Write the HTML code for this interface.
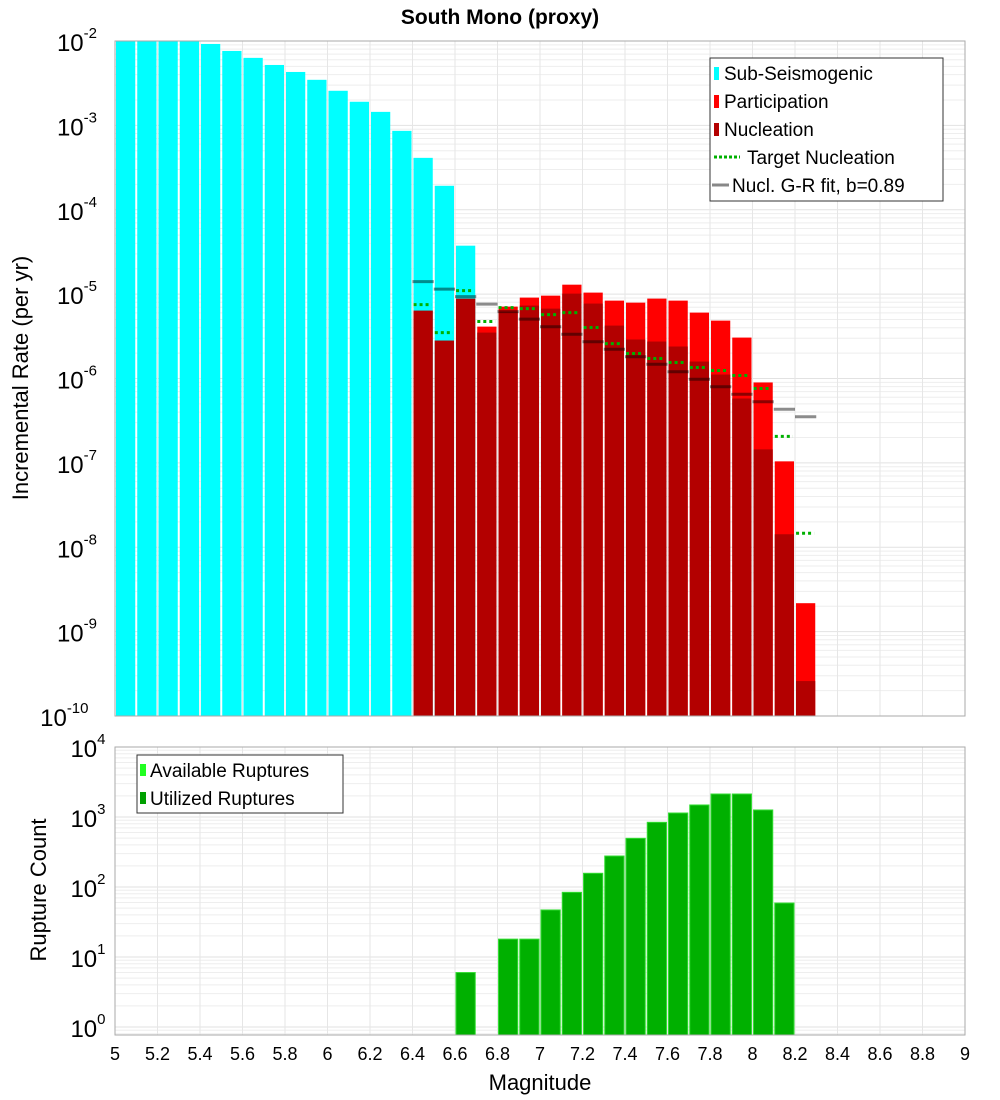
<!DOCTYPE html>
<html><head><meta charset="utf-8"><style>
html,body{margin:0;padding:0;background:#fff}
svg{display:block;font-family:"Liberation Sans","DejaVu Sans",sans-serif}
</style></head><body>
<svg id="chart" width="1000" height="1100" viewBox="0 0 1000 1100">
<text x="500" y="24" text-anchor="middle" font-size="21" font-weight="bold">South Mono (proxy)</text>
<g id="topPanel"></g>
<g id="botPanel"></g>
<text transform="translate(28,378) rotate(-90)" text-anchor="middle" font-size="22">Incremental Rate (per yr)</text>
<text transform="translate(46,890) rotate(-90)" text-anchor="middle" font-size="22">Rupture Count</text>
<text x="540" y="1090" text-anchor="middle" font-size="22">Magnitude</text>
</svg>
<script>
// data (log10 values / counts)
const subMags = [5.05,5.15,5.25,5.35,5.45,5.55,5.65,5.75,5.85,5.95,6.05,6.15,6.25,6.35,6.45,6.55,6.65];
const subLogRate = [-1.9,-1.9,-1.9,-1.9,-2.035,-2.118,-2.20,-2.284,-2.367,-2.46,-2.59,-2.72,-2.84,-3.065,-3.385,-3.716,-4.426];
const supMags = [6.45,6.55,6.65,6.75,6.85,6.95,7.05,7.15,7.25,7.35,7.45,7.55,7.65,7.75,7.85,7.95,8.05,8.15,8.25];
const partLogRate = [-5.195,-5.55,-5.053,-5.385,-5.148,-5.041,-5.018,-4.888,-4.982,-5.077,-5.101,-5.053,-5.077,-5.219,-5.314,-5.515,-6.047,-6.982,-8.663];
const nuclLogRate = [-5.195,-5.55,-5.053,-5.456,-5.207,-5.136,-5.172,-4.994,-5.112,-5.373,-5.538,-5.562,-5.621,-5.799,-5.953,-6.237,-6.84,-7.846,-9.586];
const targetLogRate = [-5.124,-5.456,-4.959,-5.325,-5.160,-5.172,-5.243,-5.219,-5.396,-5.586,-5.704,-5.763,-5.811,-5.870,-5.905,-5.964,-6.118,-6.686,-7.834];
const grLogRate = [-4.852,-4.941,-5.03,-5.119,-5.208,-5.297,-5.386,-5.475,-5.564,-5.653,-5.742,-5.831,-5.92,-6.009,-6.098,-6.187,-6.276,-6.365,-6.454];
const countMags = [6.65,6.85,6.95,7.05,7.15,7.25,7.35,7.45,7.55,7.65,7.75,7.85,7.95,8.05,8.15];
const ruptureCounts = [6,18,18,47,84,157,277,496,840,1140,1485,2130,2130,1260,59];
const xTickLabels = ["5","5.2","5.4","5.6","5.8","6","6.2","6.4","6.6","6.8","7","7.2","7.4","7.6","7.8","8","8.2","8.4","8.6","8.8","9"];
const topExps = [-2,-3,-4,-5,-6,-7,-8,-9,-10];
const botExps = [4,3,2,1,0];

const NS="http://www.w3.org/2000/svg";
const X0=115,X1=965;
const xs=m=>X0+(m-5)*(X1-X0)/4;
const T0=41,T1=716; const ty=l=>T0+(-2-l)*(T1-T0)/8;
const B0=747,B1=1035; const by=l=>B0+(4-l)*70;
function mk(tag,attrs,parent){const e=document.createElementNS(NS,tag);for(const k in attrs)e.setAttribute(k,attrs[k]);parent.appendChild(e);return e;}
const svgEl=document.getElementById('chart');
const defs=mk('defs',{},svgEl);
const cp1=mk('clipPath',{id:'ct'},defs);mk('rect',{x:X0,y:T0,width:X1-X0,height:T1-T0},cp1);
const cp2=mk('clipPath',{id:'cb'},defs);mk('rect',{x:X0,y:B0,width:X1-X0,height:B1-B0},cp2);

function panel(g,y0,y1,yf,eMin,eMax,clip){
  mk('rect',{x:X0,y:y0,width:X1-X0,height:y1-y0,fill:'#fff'},g);
  const gg=mk('g',{'clip-path':'url(#'+clip+')'},g);
  for(let e=eMin;e<eMax;e++){for(let k=1;k<10;k++){const y=yf(e+Math.log10(k));
    mk('line',{x1:X0,x2:X1,y1:y,y2:y,stroke:k==1?'#e2e2e2':'#eeeeee','stroke-width':1},gg);}}
  for(let i=0;i<xTickLabels.length;i++){const x=xs(5+i*0.2);mk('line',{x1:x,x2:x,y1:y0,y2:y1,stroke:'#e6e6e6'},gg);}
  return gg;
}
function bar(g,m,l,yf,y1,fill,name,stroke){
  const x=xs(m-0.05)+1,w=xs(m+0.05)-xs(m-0.05)-2,y=yf(l);
  const r=mk('rect',{x:x,y:y,width:w,height:Math.max(0,y1-y),fill:fill},g);
  if(stroke){r.setAttribute('stroke',stroke);r.setAttribute('stroke-width','1');}
  
  
}
function ylabels(exps,yf){
  exps.forEach(e=>{const y=yf(e);
    const w=String(e).length*8.5;
    const t=mk('text',{x:118-w-4,y:y+10,'text-anchor':'end','font-size':24},svgEl);
    
    
    const a=mk('tspan',{},t);a.textContent='10';
    const b=mk('tspan',{dy:-13,'font-size':15},t);b.textContent=String(e);
  });
}
// top panel
const topG=document.getElementById('topPanel');
const tg=panel(topG,T0,T1,ty,-10,-2,'ct');
supMags.forEach((m,i)=>bar(tg,m,partLogRate[i],ty,T1,'#ff0000','participation-bar'));
subMags.forEach((m,i)=>bar(tg,m,subLogRate[i],ty,T1,'#00ffff','sub-seismogenic-bar'));
supMags.forEach((m,i)=>bar(tg,m,nuclLogRate[i],ty,T1,'#b30000','nucleation-bar'));
supMags.forEach((m,i)=>{const y=ty(grLogRate[i]);
  const l=mk('line',{x1:xs(m-0.05),x2:xs(m+0.05),y1:y,y2:y,stroke:'rgba(0,0,0,0.45)','stroke-width':3},tg);
  
  });
supMags.forEach((m,i)=>{const y=ty(targetLogRate[i]);
  const l=mk('line',{x1:xs(m-0.045),x2:xs(m+0.04),y1:y,y2:y,stroke:'#00b000','stroke-width':3,'stroke-dasharray':'3,3'},tg);
  
  });
mk('rect',{x:X0,y:T0,width:X1-X0,height:T1-T0,fill:'none',stroke:'#aaa'},topG);
ylabels(topExps,ty);
// top legend
const lg=mk('g',{},topG);


mk('rect',{x:710,y:58,width:233,height:143,fill:'#fff',stroke:'#333'},lg);
const tl=[['Sub-Seismogenic','#00ffff','box'],['Participation','#ff0000','box'],['Nucleation','#b30000','box'],['Target Nucleation','#00b000','dot'],['Nucl. G-R fit, b=0.89','#888','line']];
tl.forEach((r,i)=>{const y=73+i*28;
  if(r[2]=='box')mk('rect',{x:714,y:y-6,width:5,height:13,fill:r[1]},lg);
  else if(r[2]=='dot')mk('line',{x1:714,x2:740,y1:y,y2:y,stroke:r[1],'stroke-width':3,'stroke-dasharray':'3,2'},lg);
  else mk('line',{x1:712,x2:729,y1:y,y2:y,stroke:r[1],'stroke-width':3},lg);
  const t=mk('text',{x:r[2]=='dot'?747:(r[2]=='line'?732:724),y:y+7,'font-size':19},lg);t.textContent=r[0];
  
  });
// bottom panel
const botG=document.getElementById('botPanel');
const bg=panel(botG,B0,B1,by,-1,4,'cb');
countMags.forEach((m,i)=>bar(bg,m,Math.log10(ruptureCounts[i]),by,B1,'#00b000','rupture-count-bar','#33dd33'));
mk('rect',{x:X0,y:B0,width:X1-X0,height:B1-B0,fill:'none',stroke:'#aaa'},botG);
ylabels(botExps,by);
const bl=mk('g',{},botG);


mk('rect',{x:137,y:755,width:206,height:58,fill:'#fff',stroke:'#333'},bl);
[['Available Ruptures','#22ff22'],['Utilized Ruptures','#00a000']].forEach((r,i)=>{const y=770+i*28;
  mk('rect',{x:140,y:y-6,width:6,height:12,fill:r[1]},bl);
  const t=mk('text',{x:150,y:y+7,'font-size':19},bl);t.textContent=r[0];
  
  });
// x ticks
xTickLabels.forEach((s,i)=>{const t=mk('text',{x:xs(5+i*0.2),y:1060,'text-anchor':'middle','font-size':18},svgEl);t.textContent=s;
  
  });
</script>
</body></html>
